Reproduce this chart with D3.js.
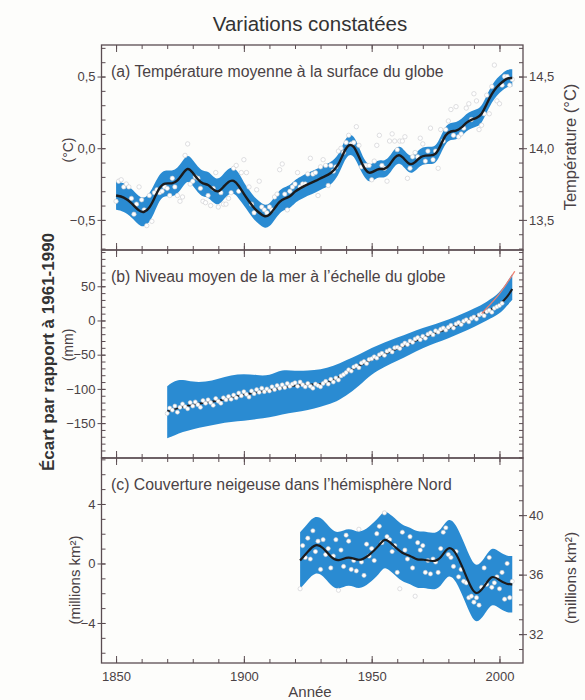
<!DOCTYPE html>
<html>
<head>
<meta charset="utf-8">
<script src="https://cdn.jsdelivr.net/npm/d3@7"></script>
<style>
  body { margin: 0; background: #fdfdfb; }
  text { font-family: "Liberation Sans", Arial, sans-serif; }
</style>
</head>
<body>
<div id="chart"></div>
<script>
// ---- data ----
const years = [1850, 1900, 1950, 2000];
const decades = [1850, 1860, 1870, 1880, 1890, 1900, 1910, 1920, 1930, 1940, 1950, 1960, 1970, 1980, 1990, 2000];

// (a) annual global mean temperature anomaly, 1850-2005
const tempAnnual = [
  -0.37,-0.23,-0.22,-0.27,-0.25,-0.27,-0.35,-0.46,-0.39,-0.27,
  -0.36,-0.43,-0.54,-0.33,-0.51,-0.31,-0.29,-0.31,-0.30,-0.27,
  -0.28,-0.33,-0.21,-0.27,-0.33,-0.37,-0.34,-0.05,0.03,-0.25,
  -0.23,-0.20,-0.21,-0.28,-0.37,-0.38,-0.33,-0.40,-0.28,-0.17,
  -0.41,-0.31,-0.39,-0.39,-0.35,-0.31,-0.14,-0.12,-0.30,-0.17,
  -0.08,-0.17,-0.27,-0.39,-0.45,-0.29,-0.23,-0.41,-0.43,-0.45,
  -0.41,-0.43,-0.34,-0.32,-0.15,-0.11,-0.32,-0.43,-0.30,-0.27,
  -0.25,-0.17,-0.27,-0.25,-0.25,-0.18,-0.07,-0.18,-0.17,-0.33,
  -0.13,-0.08,-0.12,-0.26,-0.12,-0.16,-0.13,-0.02,0.00,-0.03,
  0.04,0.09,0.03,0.04,0.15,0.02,-0.13,-0.12,-0.12,-0.12,
  -0.22,-0.09,0.02,0.09,-0.12,-0.14,-0.23,0.05,0.10,0.05,
  -0.01,0.05,0.05,0.08,-0.21,-0.14,-0.06,-0.03,-0.06,0.07,
  0.03,-0.09,-0.02,0.14,-0.08,-0.02,-0.14,0.13,0.05,0.13,
  0.19,0.27,0.09,0.29,0.08,0.10,0.14,0.28,0.31,0.20,
  0.38,0.33,0.13,0.16,0.24,0.37,0.24,0.43,0.58,0.33,
  0.31,0.44,0.50,0.50,0.44,0.48
];
// smoothed curve: [year, value, half-width of the uncertainty band]
const tempSmooth = [
  [1850,-0.33,0.10],[1853,-0.34,0.10],[1856,-0.38,0.10],[1859,-0.44,0.10],[1861,-0.45,0.10],
  [1863,-0.42,0.10],[1865,-0.35,0.10],[1867,-0.27,0.09],[1869,-0.24,0.09],[1872,-0.25,0.09],
  [1874,-0.23,0.09],[1876,-0.18,0.09],[1878,-0.13,0.09],[1880,-0.17,0.09],[1882,-0.22,0.09],
  [1884,-0.25,0.09],[1886,-0.25,0.09],[1888,-0.29,0.09],[1890,-0.31,0.09],[1892,-0.27,0.09],
  [1894,-0.23,0.09],[1896,-0.22,0.09],[1898,-0.26,0.09],[1900,-0.32,0.08],[1902,-0.37,0.08],
  [1904,-0.42,0.08],[1906,-0.45,0.08],[1908,-0.48,0.08],[1910,-0.47,0.08],[1912,-0.42,0.08],
  [1914,-0.37,0.08],[1916,-0.35,0.08],[1918,-0.34,0.08],[1920,-0.30,0.08],[1922,-0.28,0.08],
  [1925,-0.25,0.08],[1928,-0.23,0.08],[1931,-0.20,0.08],[1934,-0.18,0.08],[1937,-0.12,0.07],
  [1939,-0.03,0.07],[1941,0.03,0.07],[1943,0.02,0.07],[1945,-0.06,0.07],[1947,-0.14,0.06],
  [1949,-0.18,0.06],[1951,-0.16,0.06],[1953,-0.14,0.06],[1955,-0.15,0.06],[1957,-0.12,0.06],
  [1959,-0.06,0.06],[1961,-0.04,0.06],[1963,-0.08,0.06],[1965,-0.12,0.06],[1967,-0.10,0.06],
  [1969,-0.06,0.06],[1971,-0.05,0.06],[1973,-0.05,0.06],[1975,-0.05,0.06],[1977,0.02,0.06],
  [1979,0.10,0.06],[1981,0.12,0.06],[1983,0.12,0.06],[1985,0.14,0.06],[1987,0.18,0.06],
  [1989,0.20,0.06],[1991,0.21,0.06],[1993,0.23,0.06],[1995,0.31,0.06],[1997,0.38,0.06],
  [1999,0.43,0.06],[2001,0.46,0.06],[2003,0.49,0.06],[2005,0.49,0.06]
];

// (b) annual global mean sea level (mm), 1870-2001
const seaStart = 1870;
const seaAnnual = [
  -136,-128,-131,-125,-134,-127,-122,-126,-129,-120,
  -125,-119,-123,-127,-117,-121,-116,-120,-124,-114,
  -118,-121,-113,-116,-111,-115,-109,-113,-106,-110,
  -104,-108,-112,-103,-107,-101,-105,-99,-104,-100,
  -103,-97,-101,-95,-99,-94,-98,-92,-96,-93,
  -91,-96,-90,-94,-97,-92,-96,-99,-93,-95,
  -97,-92,-89,-93,-86,-90,-84,-87,-81,-79,
  -76,-72,-74,-68,-66,-69,-62,-60,-63,-57,
  -56,-53,-55,-50,-48,-51,-45,-43,-46,-40,
  -39,-41,-36,-33,-35,-30,-32,-27,-25,-28,
  -23,-26,-20,-18,-21,-15,-17,-13,-11,-14,
  -10,-7,-11,-5,-3,-6,-1,1,-2,3,
  5,2,8,10,7,13,15,12,18,20,
  22,25
];
const seaSmooth = [
  [1870,-133],[1875,-127],[1880,-123],[1885,-120],[1890,-117],[1895,-113],[1900,-108],
  [1905,-105],[1910,-102],[1915,-98],[1920,-95],[1925,-93],[1930,-94],[1935,-88],[1940,-76],
  [1945,-66],[1950,-57],[1955,-49],[1960,-41],[1965,-33],[1970,-25],[1975,-18],[1980,-12],
  [1985,-4],[1990,4],[1995,13],[2000,22],[2003,34],[2005,46]
];
// uncertainty band: [year, low, high]
const seaBand = [
  [1870,-172,-96],[1873,-168,-88],[1876,-163,-86],[1880,-159,-90],[1885,-155,-90],
  [1890,-151,-85],[1895,-148,-80],[1900,-147,-78],[1905,-144,-80],[1910,-142,-81],
  [1915,-137,-71],[1920,-134,-74],[1925,-131,-73],[1930,-126,-72],[1935,-121,-67],
  [1940,-110,-58],[1945,-96,-50],[1950,-78,-40],[1955,-68,-32],[1960,-59,-25],
  [1965,-50,-18],[1970,-40,-11],[1975,-33,-5],[1980,-26,1],[1985,-18,9],
  [1990,-10,17],[1995,0,27],[2000,9,40],[2003,22,56],[2005,30,68]
];
// satellite altimetry
const seaSatellite = [
  [1993,10],[1995,18],[1997,26],[1999,34],[2001,44],[2003,55],[2005,66],[2006,72]
];

// (c) March-April Northern Hemisphere snow cover anomaly (million km²), 1922-2005
const snowStart = 1922;
const snowAnnual = [
  -1.7,1.2,0.4,1.7,0.3,2.2,0.8,1.5,-0.4,1.6,
  0.6,1.0,-0.3,0.5,1.6,-1.8,0.9,-0.2,1.9,1.5,
  -0.4,0.2,-0.5,2.3,0.1,-0.8,1.3,0.5,1.0,0.2,
  2.0,2.5,1.4,3.4,1.8,1.6,0.8,1.2,-0.6,-1.7,
  2.1,0.9,0.3,1.8,-0.3,-2.2,1.4,0.9,1.2,-0.6,
  0.2,-0.7,0.3,0.1,-0.6,1.0,2.1,2.4,0.6,0.4,
  -0.2,0.8,-0.9,-0.4,-1.2,-1.3,-2.3,-2.2,-2.6,-2.3,
  -2.8,-1.6,-0.3,-1.4,0.4,-1.6,-1.3,-0.9,-1.7,-0.6,
  -2.4,0.0,-2.3,-1.2
];
// smoothed curve: [year, value, half-width of the band]
const snowSmooth = [
  [1922,0.2,1.9],[1925,0.8,1.9],[1928,1.35,1.9],[1931,1.1,1.9],[1934,0.4,1.9],[1937,0.1,1.9],
  [1941,0.55,1.9],[1945,0.1,1.9],[1949,0.55,1.9],[1953,1.2,1.9],[1955,1.75,1.9],[1958,1.3,1.9],
  [1962,0.65,1.9],[1965,0.55,1.9],[1968,0.2,1.9],[1970,0.3,1.9],[1974,0.1,1.9],[1977,0.3,1.9],
  [1980,1.25,1.9],[1983,0.75,1.9],[1986,-0.45,1.9],[1989,-1.7,1.9],[1991,-2.15,1.9],
  [1994,-1.6,1.9],[1997,-0.7,1.9],[2000,-1.15,1.9],[2003,-1.4,1.9],[2005,-1.4,1.9]
];

// ---- layout ----
const W = 585, H = 700;
const X0 = 101.5, X1 = 523;
const frameColor = "#5b4d52", textColor = "#4a4245", blue = "#2a8bd2";

const svg = d3.select("#chart").append("svg")
  .attr("width", W).attr("height", H);

const x = d3.scaleLinear().domain([1844.3, 2009.2]).range([X0, X1]);

const fr = d3.formatLocale({ decimal: ",", thousands: " ", grouping: [3], currency: ["", "€"], minus: "\u2212" });
const f1 = fr.format(".1f"), f0 = fr.format("d");

const panels = [
  { top: 45, bottom: 250, domain: [-0.71, 0.72], major: [-0.5, 0, 0.5], minor: d3.range(-0.7, 0.71, 0.1), fmt: f1,
    right: { offset: 14, major: [13.5, 14, 14.5], minor: d3.range(13.3, 14.71, 0.1), fmt: f1 },
    label: "(a) Température moyenne à la surface du globe" },
  { top: 250, bottom: 458, domain: [-201, 103], major: [-150, -100, -50, 0, 50], minor: d3.range(-200, 101, 10), fmt: f0,
    right: { offset: 0, major: [], minor: d3.range(-200, 101, 10), fmt: f0 },
    label: "(b) Niveau moyen de la mer à l’échelle du globe" },
  { top: 458, bottom: 663, domain: [-6.69, 7.09], major: [-4, 0, 4], minor: d3.range(-6, 7.01, 1), fmt: f0,
    right: { offset: 36.75, major: [32, 36, 40], minor: d3.range(31, 43.01, 1), fmt: f0 },
    label: "(c) Couverture neigeuse dans l’hémisphère Nord" }
];
panels.forEach(p => {
  p.y = d3.scaleLinear().domain(p.domain).range([p.bottom, p.top]);
  p.yr = d3.scaleLinear().domain(p.domain.map(v => v + p.right.offset)).range([p.bottom, p.top]);
});

function styleAxis(g) {
  g.select(".domain").remove();
  g.selectAll("line").attr("stroke", frameColor).attr("stroke-width", 1);
  g.selectAll("text").attr("fill", textColor).style("font-size", "13px");
}

// band + line + dots drawing helpers
function band(p, rows, lo, hi) {
  const area = d3.area().curve(d3.curveBasis)
    .x(d => x(d[0])).y0(d => p.y(lo(d))).y1(d => p.y(hi(d)));
  svg.append("path").datum(rows).attr("d", area).attr("fill", blue);
}
function smoothLine(p, rows, width) {
  const line = d3.line().curve(d3.curveBasis).x(d => x(d[0])).y(d => p.y(d[1]));
  svg.append("path").datum(rows).attr("d", line)
    .attr("fill", "none").attr("stroke", "#1b1b1d").attr("stroke-width", width);
}
function dots(p, values, start, r) {
  svg.append("g").selectAll("circle").data(values).join("circle")
    .attr("cx", (d, i) => x(start + i)).attr("cy", d => p.y(d)).attr("r", r)
    .attr("fill", "#ffffff").attr("stroke", "#c9c9cc").attr("stroke-width", 0.6);
}

const [pa, pb, pc] = panels;

// (a)
band(pa, tempSmooth, d => d[1] - d[2], d => d[1] + d[2]);
dots(pa, tempAnnual, 1850, 2.2);
smoothLine(pa, tempSmooth, 2.4);

// (b)
band(pb, seaBand, d => d[1], d => d[2]);
smoothLine(pb, seaSmooth, 2);
dots(pb, seaAnnual, seaStart, 2);
svg.append("path").datum(seaSatellite)
  .attr("d", d3.line().curve(d3.curveBasis).x(d => x(d[0])).y(d => pb.y(d[1])))
  .attr("fill", "none").attr("stroke", "#f08070").attr("stroke-width", 1.2);

// (c)
band(pc, snowSmooth, d => d[1] - d[2], d => d[1] + d[2]);
dots(pc, snowAnnual, snowStart, 2.1);
smoothLine(pc, snowSmooth, 2.2);

// frames and axes
panels.forEach(p => {
  svg.append("rect").attr("x", X0).attr("y", p.top).attr("width", X1 - X0).attr("height", p.bottom - p.top)
    .attr("fill", "none").attr("stroke", frameColor).attr("stroke-width", 1.3);

  // year ticks on top and bottom edges, pointing inward
  [[d3.axisTop, p.top], [d3.axisBottom, p.bottom]].forEach(([ax, yy]) => {
    svg.append("g").attr("transform", `translate(0,${yy})`)
      .call(ax(x).tickValues(decades).tickSize(-4).tickFormat(""))
      .call(styleAxis);
    svg.append("g").attr("transform", `translate(0,${yy})`)
      .call(ax(x).tickValues(years).tickSize(-7).tickFormat(""))
      .call(styleAxis);
  });

  // left axis
  svg.append("g").attr("transform", `translate(${X0},0)`)
    .call(d3.axisLeft(p.y).tickValues(p.minor).tickSize(-4).tickFormat(""))
    .call(styleAxis);
  svg.append("g").attr("transform", `translate(${X0 + 4},0)`)
    .call(d3.axisLeft(p.y).tickValues(p.major).tickSize(8).tickPadding(2).tickFormat(p.fmt))
    .call(styleAxis);

  // right axis
  svg.append("g").attr("transform", `translate(${X1},0)`)
    .call(d3.axisRight(p.yr).tickValues(p.right.minor).tickSize(-4).tickFormat(""))
    .call(styleAxis);
  svg.append("g").attr("transform", `translate(${X1 - 4},0)`)
    .call(d3.axisRight(p.yr).tickValues(p.right.major).tickSize(8).tickPadding(2).tickFormat(p.right.fmt))
    .call(styleAxis);

  svg.append("text").attr("x", 111).attr("y", p.top + 32)
    .attr("fill", textColor).style("font-size", "15.8px").text(p.label);
});

// year labels
svg.append("g").attr("transform", `translate(0,${pc.bottom})`)
  .call(d3.axisBottom(x).tickValues(years).tickSize(0).tickPadding(9).tickFormat(d3.format("d")))
  .call(styleAxis);

// titles
svg.append("text").attr("x", 310).attr("y", 31).attr("text-anchor", "middle")
  .attr("fill", "#333").style("font-size", "20.5px").text("Variations constatées");
svg.append("text").attr("x", 310).attr("y", 697).attr("text-anchor", "middle")
  .attr("fill", textColor).style("font-size", "15px").text("Année");

function vlabel(txt, xx, yy, size, weight, color) {
  svg.append("text").attr("transform", `translate(${xx},${yy}) rotate(-90)`)
    .attr("text-anchor", "middle").attr("fill", color || textColor)
    .style("font-size", size).style("font-weight", weight || "normal").text(txt);
}
vlabel("Écart par rapport à 1961-1990", 54, 352, "17px", "bold", "#333");
vlabel("(°C)", 73, 150, "14px");
vlabel("(mm)", 73, 345, "14px");
vlabel("(millions km²)", 80, 580, "15px");
vlabel("Température (°C)", 576, 147, "16.5px");
vlabel("(millions km²)", 576, 578, "15.5px");
</script>
</body>
</html>
